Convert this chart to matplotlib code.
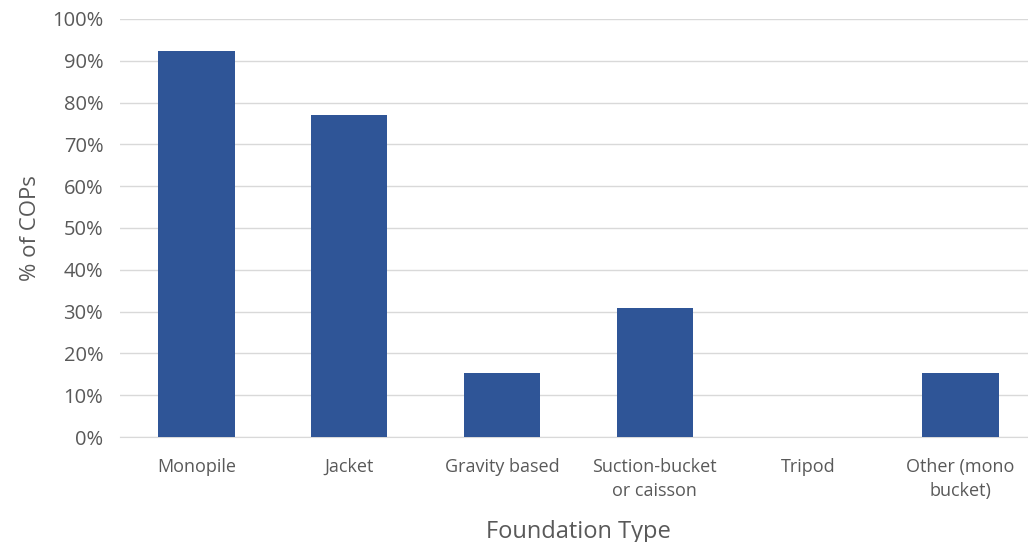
import numpy as np
import matplotlib.pyplot as plt
from matplotlib.ticker import PercentFormatter

# share of COPs using each foundation type (out of 13)
categories = ["Monopile", "Jacket", "Gravity based", "Suction-bucket\nor caisson",
              "Tripod", "Other (mono\nbucket)"]
counts = [12, 10, 2, 4, 0, 2]
total = 13
shares = [c / total * 100 for c in counts]

plt.rcParams["font.family"] = ["Open Sans", "DejaVu Sans"]
TEXT = "#595959"

fig = plt.figure(figsize=(10.28, 5.42), dpi=100)
ax = fig.add_axes([0.1167, 0.1937, 0.892, 0.7713])

x = np.arange(len(categories))
ax.bar(x, shares, width=0.5, color="#2F5597", zorder=3)

ax.set_xlim(-0.5, len(categories) - 0.5)
ax.set_ylim(0, 100)
ax.set_yticks(np.arange(0, 101, 10))
ax.yaxis.set_major_formatter(PercentFormatter(decimals=0))
ax.set_xticks(x)
ax.set_xticklabels(categories, fontsize=13, color=TEXT, linespacing=1.45)
ax.tick_params(axis="y", labelsize=14.5, colors=TEXT, length=0, pad=12)
ax.tick_params(axis="x", length=0, pad=15)

ax.grid(axis="y", color="#D9D9D9", linewidth=1, zorder=0)
for s in ["top", "right", "left"]:
    ax.spines[s].set_visible(False)
ax.spines["bottom"].set_color("#D9D9D9")

ax.set_ylabel("% of COPs", fontsize=16, color=TEXT, labelpad=8)
ax.set_xlabel("Foundation Type", fontsize=17, color=TEXT, labelpad=14)

fig.savefig("out.png", dpi=100)
